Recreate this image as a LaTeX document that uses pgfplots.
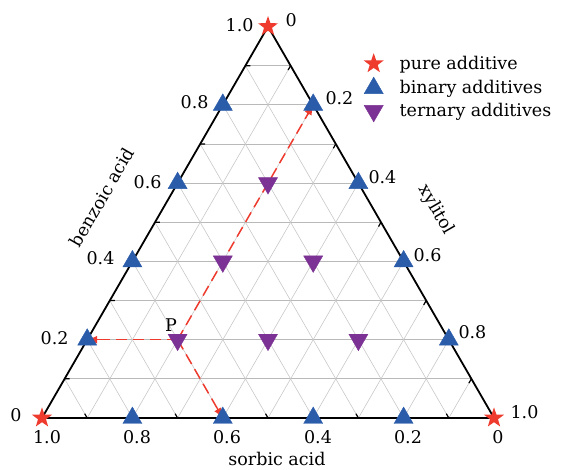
\documentclass[border=0pt]{standalone}
\usepackage{pgfplots}
\pgfplotsset{compat=1.18}
\usepackage{fontspec}
\setmainfont{DejaVu Serif}
\usetikzlibrary{arrows.meta}
\definecolor{cred}{HTML}{EE3B2E}
\definecolor{cblue}{HTML}{2A5CAA}
\definecolor{cpurp}{HTML}{7B3294}
\definecolor{cgrid}{HTML}{C8C8C8}
\pgfdeclareplotmark{fstar}{%
  \pgfpathmoveto{\pgfpointpolar{90}{\pgfplotmarksize}}%
  \pgfpathlineto{\pgfpointpolar{126}{0.4\pgfplotmarksize}}%
  \pgfpathlineto{\pgfpointpolar{162}{\pgfplotmarksize}}%
  \pgfpathlineto{\pgfpointpolar{198}{0.4\pgfplotmarksize}}%
  \pgfpathlineto{\pgfpointpolar{234}{\pgfplotmarksize}}%
  \pgfpathlineto{\pgfpointpolar{270}{0.4\pgfplotmarksize}}%
  \pgfpathlineto{\pgfpointpolar{306}{\pgfplotmarksize}}%
  \pgfpathlineto{\pgfpointpolar{342}{0.4\pgfplotmarksize}}%
  \pgfpathlineto{\pgfpointpolar{18}{\pgfplotmarksize}}%
  \pgfpathlineto{\pgfpointpolar{54}{0.4\pgfplotmarksize}}%
  \pgfpathclose
  \pgfusepathqfill
}
\begin{document}
\begin{tikzpicture}
\begin{axis}[
  scale only axis, width=561pt, height=468pt,
  xmin=-0.092920, xmax=1.148230, ymin=-0.110619, ymax=0.924779,
  axis lines=none, clip=false,
  unbounded coords=jump,
  font=\fontsize{17.5}{20}\selectfont,
  legend style={at={(axis cs:0.7113,0.8075)}, anchor=north west, draw=none, fill=none,
    font=\fontsize{17.5}{20}\selectfont, row sep=4pt, inner sep=0pt},
  legend cell align=left,
]
\path (rel axis cs:0,0) rectangle (rel axis cs:1,1);
% grid: constant benzoic acid (horizontal)
\addplot[cgrid!80!gray, line width=0.8pt, forget plot] coordinates {
 (0.05,0.086603)(0.95,0.086603)(nan,nan)
 (0.10,0.173205)(0.90,0.173205)(nan,nan)
 (0.15,0.259808)(0.85,0.259808)(nan,nan)
 (0.20,0.346410)(0.80,0.346410)(nan,nan)
 (0.25,0.433013)(0.75,0.433013)(nan,nan)
 (0.30,0.519615)(0.70,0.519615)(nan,nan)
 (0.35,0.606218)(0.65,0.606218)(nan,nan)
 (0.40,0.692820)(0.60,0.692820)(nan,nan)
 (0.45,0.779423)(0.55,0.779423)
};
% grid: constant xylitol
\addplot[cgrid, line width=0.6pt, forget plot] coordinates {
 (0.1,0)(0.55,0.779423)(nan,nan)
 (0.2,0)(0.60,0.692820)(nan,nan)
 (0.3,0)(0.65,0.606218)(nan,nan)
 (0.4,0)(0.70,0.519615)(nan,nan)
 (0.5,0)(0.75,0.433013)(nan,nan)
 (0.6,0)(0.80,0.346410)(nan,nan)
 (0.7,0)(0.85,0.259808)(nan,nan)
 (0.8,0)(0.90,0.173205)(nan,nan)
 (0.9,0)(0.95,0.086603)
};
% grid: constant sorbic acid
\addplot[cgrid, line width=0.6pt, forget plot] coordinates {
 (0.1,0)(0.05,0.086603)(nan,nan)
 (0.2,0)(0.10,0.173205)(nan,nan)
 (0.3,0)(0.15,0.259808)(nan,nan)
 (0.4,0)(0.20,0.346410)(nan,nan)
 (0.5,0)(0.25,0.433013)(nan,nan)
 (0.6,0)(0.30,0.519615)(nan,nan)
 (0.7,0)(0.35,0.606218)(nan,nan)
 (0.8,0)(0.40,0.692820)(nan,nan)
 (0.9,0)(0.45,0.779423)
};
% pure additive
\addplot[only marks, mark=fstar, mark size=10.5pt, color=cred] coordinates {
 (0,0)(1,0)(0.5,0.866025)};
\addlegendentry{\hspace{14pt}pure additive}
% binary additives
\addplot[only marks, mark=triangle*, mark size=11pt, color=cblue] coordinates {
 (0.1,0.173205)(0.2,0.346410)(0.3,0.519615)(0.4,0.692820)
 (0.9,0.173205)(0.8,0.346410)(0.7,0.519615)(0.6,0.692820)
 (0.2,0)(0.4,0)(0.6,0)(0.8,0)};
\addlegendentry{\hspace{14pt}binary additives}
% ternary additives
\addplot[only marks, mark=triangle*, mark size=11pt, mark options={rotate=180}, color=cpurp] coordinates {
 (0.5,0.519615)(0.4,0.346410)(0.6,0.346410)
 (0.3,0.173205)(0.5,0.173205)(0.7,0.173205)};
\addlegendentry{\hspace{14pt}ternary additives}
% triangle edges
\addplot[black, line width=1.8pt, forget plot, line join=miter] coordinates {
 (0,0)(1,0)(0.5,0.866025)(0,0)(1,0)};
% edge ticks
\addplot[black, line width=1.2pt, forget plot] coordinates {
 (0.05,0.086603)(0.061,0.086603)(nan,nan)
 (0.10,0.173205)(0.111,0.173205)(nan,nan)
 (0.15,0.259808)(0.161,0.259808)(nan,nan)
 (0.20,0.346410)(0.211,0.346410)(nan,nan)
 (0.25,0.433013)(0.261,0.433013)(nan,nan)
 (0.30,0.519615)(0.311,0.519615)(nan,nan)
 (0.35,0.606218)(0.361,0.606218)(nan,nan)
 (0.40,0.692820)(0.411,0.692820)(nan,nan)
 (0.45,0.779423)(0.461,0.779423)(nan,nan)
 (0.95,0.086603)(0.9445,0.077103)(nan,nan)
 (0.90,0.173205)(0.8945,0.163705)(nan,nan)
 (0.85,0.259808)(0.8445,0.250308)(nan,nan)
 (0.80,0.346410)(0.7945,0.336910)(nan,nan)
 (0.75,0.433013)(0.7445,0.423513)(nan,nan)
 (0.70,0.519615)(0.6945,0.510115)(nan,nan)
 (0.65,0.606218)(0.6445,0.596718)(nan,nan)
 (0.60,0.692820)(0.5945,0.683320)(nan,nan)
 (0.55,0.779423)(0.5445,0.769923)(nan,nan)
 (0.1,0)(0.0945,0.0095)(nan,nan)
 (0.2,0)(0.1945,0.0095)(nan,nan)
 (0.3,0)(0.2945,0.0095)(nan,nan)
 (0.4,0)(0.3945,0.0095)(nan,nan)
 (0.5,0)(0.4945,0.0095)(nan,nan)
 (0.6,0)(0.5945,0.0095)(nan,nan)
 (0.7,0)(0.6945,0.0095)(nan,nan)
 (0.8,0)(0.7945,0.0095)(nan,nan)
 (0.9,0)(0.8945,0.0095)
};
% red dashed guide lines from P
\addplot[cred, line width=1.5pt, dash pattern=on 11pt off 6pt, forget plot] coordinates {(0.3,0.173205)(0.115,0.173205)};
\addplot[cred, line width=1.5pt, dash pattern=on 11pt off 6pt, forget plot] coordinates {(0.3,0.173205)(0.3925,0.012990)};
\addplot[cred, line width=1.5pt, dash pattern=on 11pt off 6pt, forget plot] coordinates {(0.3,0.173205)(0.5925,0.679830)};
% solid arrow heads
\addplot[cred, line width=1.5pt, forget plot, -{Latex[length=10pt,width=8pt]}] coordinates {(0.125,0.173205)(0.1,0.173205)};
\addplot[cred, line width=1.5pt, forget plot, -{Latex[length=10pt,width=8pt]}] coordinates {(0.3875,0.021651)(0.4,0)};
\addplot[cred, line width=1.5pt, forget plot, -{Latex[length=10pt,width=8pt]}] coordinates {(0.5875,0.671170)(0.6,0.692820)};
% tick labels: benzoic acid (left)
\node[anchor=east] at (axis cs:0.4757,0.8695) {1.0};
\node[anchor=east] at (axis cs:0.3761,0.6991) {0.8};
\node[anchor=east] at (axis cs:0.2721,0.5221) {0.6};
\node[anchor=east] at (axis cs:0.1681,0.3540) {0.4};
\node[anchor=east] at (axis cs:0.0664,0.1770) {0.2};
\node[anchor=east] at (axis cs:-0.0376,0.0066) {0};
% tick labels: xylitol (right)
\node[anchor=west] at (axis cs:0.5310,0.8805) {0};
\node[anchor=west] at (axis cs:0.6195,0.7080) {0.2};
\node[anchor=west] at (axis cs:0.7146,0.5332) {0.4};
\node[anchor=west] at (axis cs:0.8142,0.3606) {0.6};
\node[anchor=west] at (axis cs:0.9137,0.1903) {0.8};
\node[anchor=west] at (axis cs:1.0288,0.0133) {1.0};
% tick labels: sorbic acid (bottom)
\node at (axis cs:0.0111,-0.0420) {1.0};
\node at (axis cs:0.2102,-0.0420) {0.8};
\node at (axis cs:0.4093,-0.0420) {0.6};
\node at (axis cs:0.6106,-0.0420) {0.4};
\node at (axis cs:0.8097,-0.0420) {0.2};
\node at (axis cs:1.0088,-0.0420) {0};
% axis titles
\node[rotate=60] at (axis cs:0.1327,0.4889) {benzoic acid};
\node[rotate=-60] at (axis cs:0.8717,0.4602) {xylitol};
\node at (axis cs:0.5199,-0.0907) {sorbic acid};
\node at (axis cs:0.2854,0.2058) {P};
\end{axis}
\end{tikzpicture}
\end{document}
